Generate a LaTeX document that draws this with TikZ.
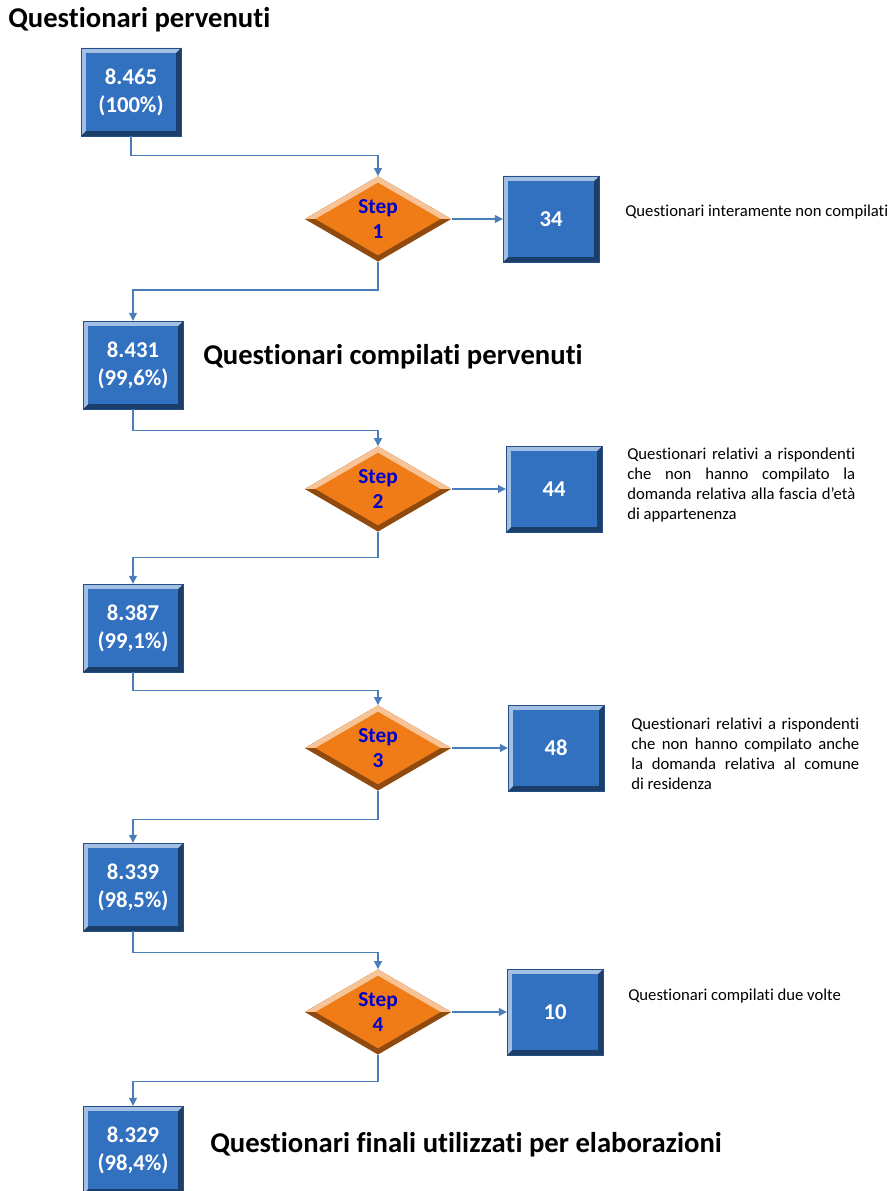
\documentclass[tikz,border=0pt]{standalone}
\usepackage{fontspec}
\setmainfont{Carlito}[Ligatures=NoCommon]
\usetikzlibrary{shapes.geometric, arrows.meta, positioning}
\definecolor{boxblue}{RGB}{50,112,192}
\definecolor{stepor}{RGB}{240,124,24}
\definecolor{linkblue}{RGB}{74,126,187}
\definecolor{stepblue}{RGB}{0,0,204}
\tikzset{
  boxbevel/.style={path picture={
      \fill[#1!55!black] (path picture bounding box.north west) rectangle (path picture bounding box.south east);
      \fill[#1!45!white] (path picture bounding box.north west) -- (path picture bounding box.north east)
        -- ([shift={(-4pt,-4pt)}]path picture bounding box.north east)
        -- ([shift={(4pt,-4pt)}]path picture bounding box.north west)
        -- ([shift={(4pt,4pt)}]path picture bounding box.south west)
        -- (path picture bounding box.south west) -- cycle;
      \fill[#1] ([shift={(4pt,-4pt)}]path picture bounding box.north west) rectangle ([shift={(-4pt,4pt)}]path picture bounding box.south east);
    }},
  diambevel/.style={path picture={
      \fill[#1!60!black] (path picture bounding box.north west) rectangle (path picture bounding box.south east);
      \fill[#1!45!white] (path picture bounding box.north west) rectangle (path picture bounding box.east);
      \fill[#1] ([xshift=8pt]path picture bounding box.west) -- ([yshift=-4.7pt]path picture bounding box.north)
        -- ([xshift=-8pt]path picture bounding box.east) -- ([yshift=4.7pt]path picture bounding box.south) -- cycle;
    }},
  numbox/.style={rectangle, draw=boxblue!70!black, line width=0.3pt, minimum width=75pt, minimum height=66pt,
                 inner sep=0pt, boxbevel=boxblue, text=white, align=center,
                 font=\fontsize{17}{21}\selectfont\bfseries},
  outbox/.style={numbox, minimum width=72pt, minimum height=64.5pt},
  stepdiam/.style={diamond, aspect=1.7, minimum width=110pt, minimum height=64pt, inner sep=0pt,
                   diambevel=stepor, text=stepblue, align=center,
                   font=\fontsize{16}{19}\selectfont\bfseries},
  heading/.style={anchor=west, inner sep=0pt, font=\fontsize{21.5}{26}\selectfont\bfseries},
  note/.style={inner sep=0pt, font=\fontsize{12.5}{15}\selectfont},
  notepar/.style={note, anchor=north west, text width=171pt, align=justify,
                  execute at begin node={\hyphenpenalty=10000\exhyphenpenalty=10000}},
  conn/.style={draw=linkblue, line width=0.9pt, -{Triangle[length=6pt,width=6pt]}},
}
\begin{document}
\begin{tikzpicture}[x=0.75pt, y=-0.75pt]
  \useasboundingbox (0,0) rectangle (893,1191);
  % main column
  \node[heading] (title) at (8,20) {Questionari pervenuti};
  \node[numbox] (b1) at (131,92) {8.465\\(100\%)};
  \node[numbox] (b2) at (133,365) {8.431\\(99,6\%)};
  \node[numbox] (b3) at (133,628) {8.387\\(99,1\%)};
  \node[numbox] (b4) at (133,887) {8.339\\(98,5\%)};
  \node[numbox] (b5) at (133,1150) {8.329\\(98,4\%)};
  \node[heading] (h2) at (203,357) {Questionari compilati pervenuti};
  \node[heading] (h5) at (210,1145) {Questionari finali utilizzati per elaborazioni};

  % steps
  \node[stepdiam] (s1) at (378,219) {Step\\1};
  \node[stepdiam] (s2) at (378,489) {Step\\2};
  \node[stepdiam] (s3) at (378,748) {Step\\3};
  \node[stepdiam] (s4) at (378,1012) {Step\\4};

  % discarded
  \node[outbox] (r1) at (551,219) {34};
  \node[outbox] (r2) at (554,489) {44};
  \node[outbox] (r3) at (556,748) {48};
  \node[outbox] (r4) at (555,1012) {10};
  \node[note, anchor=west] (n1) at (625,212) {Questionari interamente non compilati};
  \node[notepar] (n2) at (627,448) {Questionari relativi a rispondenti che non hanno compilato la domanda relativa alla fascia d’età di appartenenza};
  \node[notepar] (n3) at (631,718) {Questionari relativi a rispondenti che non hanno compilato anche la domanda relativa al comune\linebreak di residenza};
  \node[note, anchor=west] (n4) at (628,996) {Questionari compilati due volte};

  % connectors
  \draw[conn] (b1.south) -- ++(0,19) -| (s1.north);
  \draw[conn] (s1.south) -- ++(0,28) -| (b2.north);
  \draw[conn] (b2.south) -- ++(0,21) -| (s2.north);
  \draw[conn] (s2.south) -- ++(0,25.5) -| (b3.north);
  \draw[conn] (b3.south) -- ++(0,18) -| (s3.north);
  \draw[conn] (s3.south) -- ++(0,28.5) -| (b4.north);
  \draw[conn] (b4.south) -- ++(0,21) -| (s4.north);
  \draw[conn] (s4.south) -- ++(0,26.5) -| (b5.north);
  \draw[conn] (s1) -- (r1);
  \draw[conn] (s2) -- (r2);
  \draw[conn] (s3) -- (r3);
  \draw[conn] (s4) -- (r4);
\end{tikzpicture}
\end{document}
